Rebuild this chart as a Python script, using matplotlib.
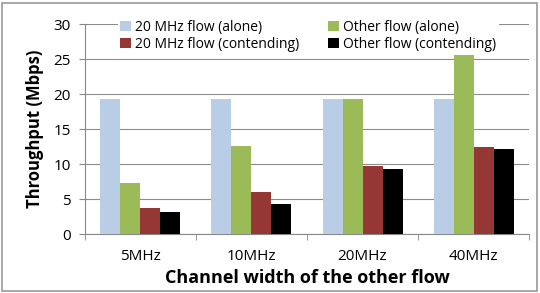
import numpy as np
import matplotlib
matplotlib.use('Agg')
import matplotlib.pyplot as plt
from matplotlib.patches import Rectangle

categories = ['5MHz', '10MHz', '20MHz', '40MHz']
flow20_alone = [19.3, 19.3, 19.3, 19.3]
other_alone = [7.3, 12.6, 19.3, 25.9]
flow20_contending = [3.7, 6.0, 9.7, 12.4]
other_contending = [3.2, 4.3, 9.3, 12.2]
series_names = ['20 MHz flow (alone)', 'Other flow (alone)',
                '20 MHz flow (contending)', 'Other flow (contending)']
yticks = [0, 5, 10, 15, 20, 25, 30]

plt.rcParams['font.family'] = ['Open Sans', 'DejaVu Sans']

fig = plt.figure(figsize=(5.4, 2.93), dpi=100)
ax = fig.add_axes([0.157, 0.201, 0.823, 0.717])

colors = ['#B9CDE5', '#9BBB59', '#953735', '#000000']
series = [flow20_alone, other_alone, flow20_contending, other_contending]
x = np.arange(len(categories))
w = 0.18
bars = []
for i, (vals, c) in enumerate(zip(series, colors)):
    b = ax.bar(x + (i - 1.5) * w, vals, w, color=c, zorder=3)
    bars.append(b)

ax.set_xlim(-0.5, 3.5)
ax.set_ylim(0, 30)
ax.set_yticks(yticks)
ax.set_xticks(x)
ax.set_xticklabels(categories, fontsize=11)
ax.set_xticks(np.arange(-0.5, 4.0, 1.0), minor=True)
ax.tick_params(axis='x', which='major', length=0, pad=11)
ax.tick_params(axis='x', which='minor', length=4, color='#888888', direction='out')
ax.tick_params(axis='y', labelsize=11, length=4, color='#888888', pad=6)
ax.yaxis.grid(True, color='#8c8c8c', linewidth=0.8, zorder=0)
for s in ['top', 'right']:
    ax.spines[s].set_visible(False)
for s in ['left', 'bottom']:
    ax.spines[s].set_color('#888888')

ax.set_ylabel('Throughput (Mbps)', fontsize=12, fontweight='bold', labelpad=7)
ax.set_xlabel('Channel width of the other flow', fontsize=13, fontweight='bold', labelpad=3)

handles = [bars[0], bars[2], bars[1], bars[3]]
labels = [series_names[0], series_names[2], series_names[1], series_names[3]]
leg = ax.legend(handles, labels, ncol=2, loc='upper left', bbox_to_anchor=(0.058, 1.065),
                fontsize=10, frameon=True, framealpha=1, facecolor='white',
                edgecolor='none', handlelength=0.75, handleheight=0.75,
                handletextpad=0.3, columnspacing=2.1, labelspacing=0.15,
                borderpad=0.2, fancybox=False)
leg.set_zorder(5)

fig.patches.append(Rectangle((0.004, 0.006), 0.99, 0.985, transform=fig.transFigure,
                             fill=False, edgecolor='#9a9a9a', linewidth=1.2))

fig.savefig('out.png', dpi=100)
